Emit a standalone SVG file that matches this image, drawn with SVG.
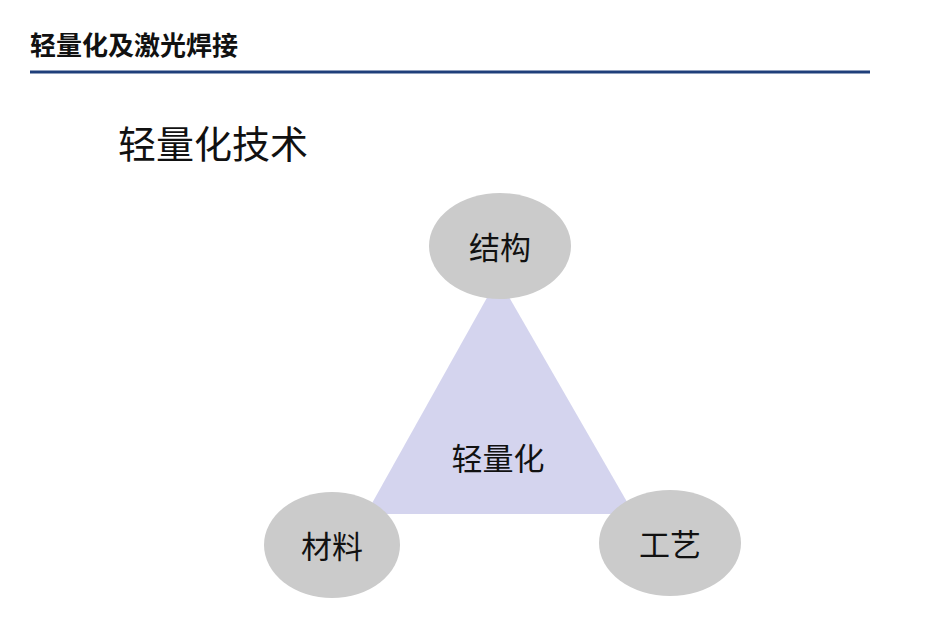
<svg xmlns="http://www.w3.org/2000/svg" width="948" height="618" viewBox="0 0 948 618">
<style>
text{font-family:"Liberation Sans","Noto Sans CJK SC",sans-serif;fill:#111}
.n{fill:#cbcbcb}
.l{font-size:31px;text-anchor:middle}
</style>
<rect width="948" height="618" fill="#fff"/>
<text x="30" y="55" font-size="26" font-weight="bold">轻量化及激光焊接</text>
<line x1="30" y1="72" x2="870" y2="72" stroke="#1f3f7a" stroke-width="3"/>
<text x="118" y="158" font-size="38" fill="#222">轻量化技术</text>
<g id="connectors"></g>
<g id="center"><polygon points="498,278 366,514 634,514" fill="#d4d4ee"/><text class="l" x="498" y="470">轻量化</text></g>
<g id="jiegou"><ellipse class="n" cx="500" cy="246" rx="71" ry="53"/><text class="l" x="500" y="259">结构</text></g>
<g id="cailiao"><ellipse class="n" cx="332" cy="545" rx="68" ry="53"/><text class="l" x="332" y="558">材料</text></g>
<g id="gongyi"><ellipse class="n" cx="670" cy="543" rx="71" ry="53"/><text class="l" x="670" y="556">工艺</text></g>
</svg>
